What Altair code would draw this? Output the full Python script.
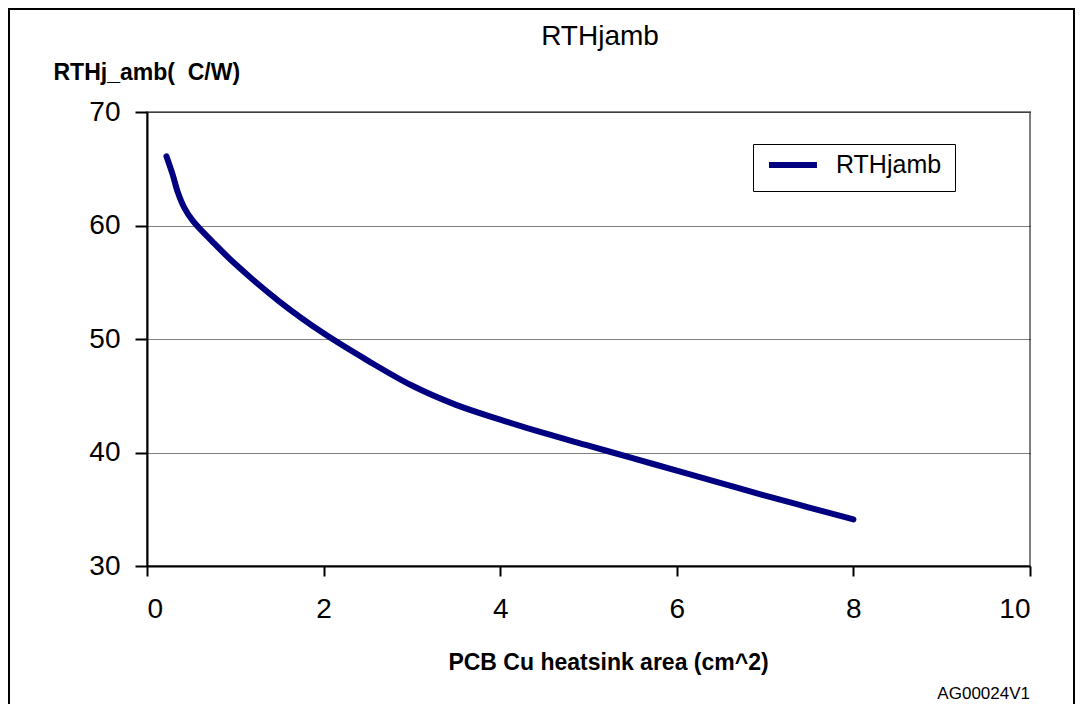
import altair as alt
import pandas as pd

# data
area = [0.22, 0.29, 0.35, 0.42, 0.52, 0.75, 1.0, 1.5, 2.0, 2.5, 3.0, 3.5, 4.0,
        4.5, 5.0, 5.5, 6.0, 6.5, 7.0, 7.5, 8.0]
rth = [66.1, 64.5, 62.9, 61.6, 60.4, 58.5, 56.6, 53.3, 50.5, 48.1, 45.9, 44.2, 42.9,
       41.7, 40.6, 39.5, 38.4, 37.3, 36.2, 35.15, 34.1]
series_name = "RTHjamb"
chart_title = "RTHjamb"
x_ticks = [0, 2, 4, 6, 8, 10]
y_ticks = [30, 40, 50, 60, 70]

df = pd.DataFrame({"area": area, "rth": rth, "series": [series_name] * len(area)})
one = pd.DataFrame({"k": [0]})

W, H = 883, 454
FONT = "Liberation Sans"

line = alt.Chart(df).mark_line(
    strokeWidth=6, strokeCap="round", strokeJoin="round", interpolate="catmull-rom"
).encode(
    x=alt.X("area:Q",
            scale=alt.Scale(domain=[0, 10], nice=False),
            axis=alt.Axis(values=x_ticks, title="PCB Cu heatsink area (cm^2)",
                          grid=False, tickSize=10, labelPadding=19,
                          titleX=461, titleY=96, titleBaseline="middle",
                          titleFontSize=23, titleFontWeight="bold")),
    y=alt.Y("rth:Q",
            scale=alt.Scale(domain=[30, 70], nice=False),
            axis=alt.Axis(values=y_ticks, title="RTHj_amb(\u00a0 C/W)",
                          grid=True, gridColor="#000000", gridDash=[1, 1], gridWidth=1,
                          tickSize=12, labelPadding=15,
                          titleAngle=0, titleAlign="left", titleBaseline="middle",
                          titleX=-94, titleY=-40,
                          titleFontSize=23, titleFontWeight="bold")),
    color=alt.Color("series:N",
                    scale=alt.Scale(range=["#000080"]),
                    legend=alt.Legend(title=None, orient="none", legendX=606, legendY=32,
                                      symbolType="stroke", symbolSize=2304,
                                      symbolStrokeWidth=6, labelFontSize=25,
                                      labelOffset=16, padding=13, clipHeight=16,
                                      strokeColor="black", fillColor="white")),
)

box = alt.Chart(one).mark_rect(fillOpacity=0, stroke="black", strokeWidth=2).encode(
    x=alt.value(-138), x2=alt.value(W + 44), y=alt.value(-103), y2=alt.value(H + 220)
)

title = alt.Chart(one).mark_text(
    text=chart_title, align="center", baseline="alphabetic", fontSize=28, font=FONT, color="black"
).encode(x=alt.value(453), y=alt.value(-67))

note = alt.Chart(one).mark_text(
    text="AG00024V1", align="right", baseline="middle", fontSize=17, font=FONT, color="black"
).encode(x=alt.value(W), y=alt.value(582))

chart = alt.layer(box, line, title, note).properties(
    width=W, height=H,
    padding={"left": 139, "top": 104, "right": 46, "bottom": 138},
    autosize=alt.AutoSizeParams(type="none"),
    background="white",
).configure(font=FONT).configure_view(
    stroke="#808080", strokeWidth=2
).configure_axis(
    domainColor="black", domainWidth=2, tickColor="black", tickWidth=2,
    labelFontSize=28, labelColor="black", titleColor="black", labelFont=FONT, titleFont=FONT
).configure_legend(
    labelFont=FONT, labelColor="black"
)

chart.save("out.html", embed_options={"renderer": "svg", "actions": False})
